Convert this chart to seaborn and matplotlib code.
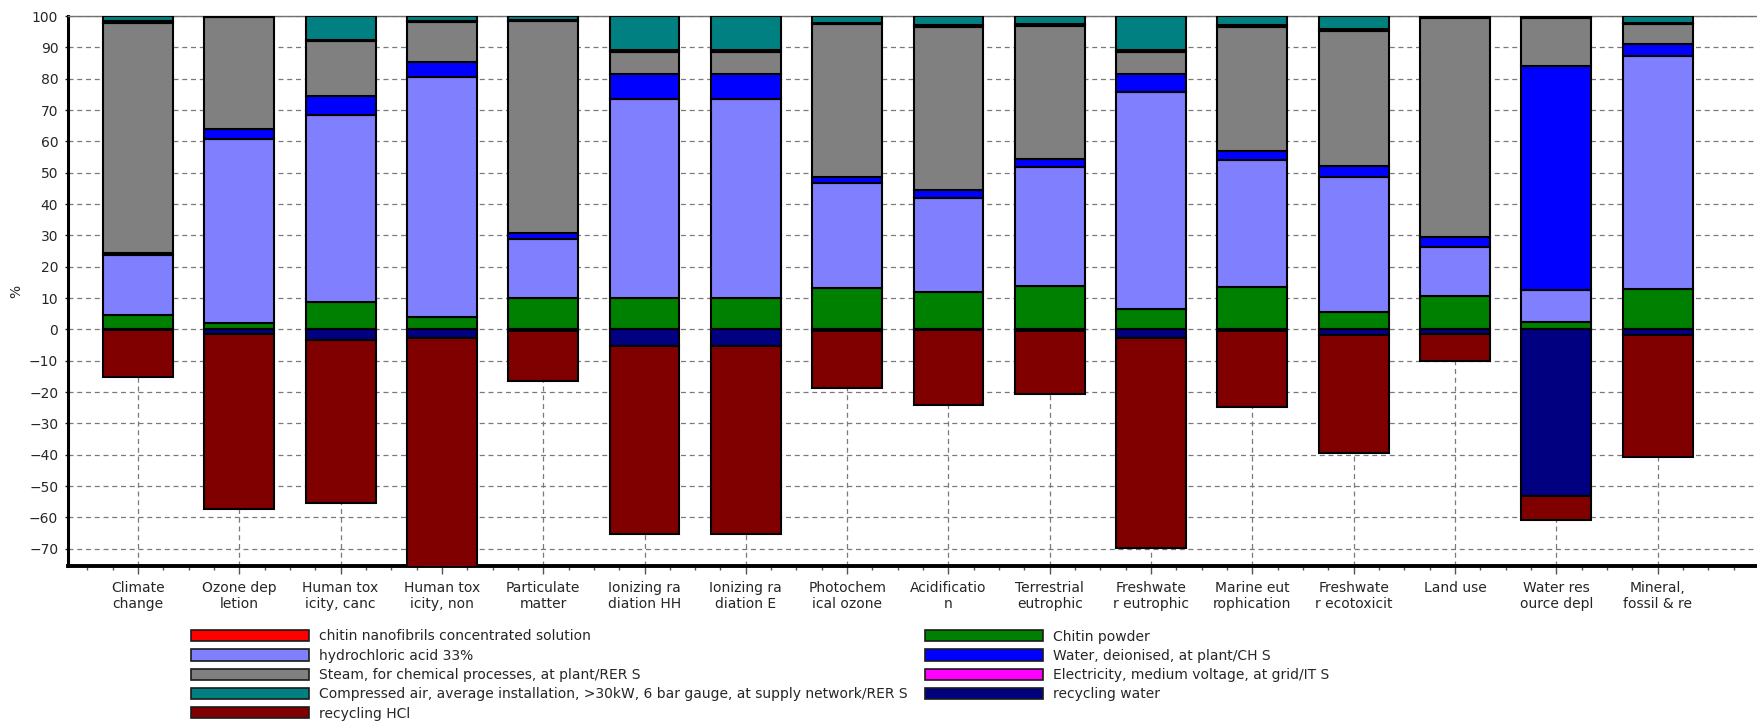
import numpy as np
import matplotlib
matplotlib.use("Agg")
import matplotlib.pyplot as plt
from matplotlib.patches import Patch
from matplotlib.ticker import MultipleLocator
import seaborn as sns

# Impact categories (SimaPro short names, wrapped as displayed)
categories = [
    "Climate\nchange", "Ozone dep\nletion", "Human tox\nicity, canc", "Human tox\nicity, non",
    "Particulate\nmatter", "Ionizing ra\ndiation HH", "Ionizing ra\ndiation E", "Photochem\nical ozone",
    "Acidificatio\nn", "Terrestrial\neutrophic", "Freshwate\nr eutrophic", "Marine eut\nrophication",
    "Freshwate\nr ecotoxicit", "Land use", "Water res\nource depl", "Mineral,\nfossil & re",
]

# Contributions in % (positive stack, bottom to top)
chitin_nanofibrils = [0.0, 0.0, 0.0, 0.0, 0.0, 0.0, 0.0, 0.0, 0.0, 0.0, 0.0, 0.0, 0.0, 0.0, 0.0, 0.0]
chitin_powder = [4.5, 2.0, 8.7, 3.8, 10.0, 10.0, 10.0, 13.3, 11.8, 14.0, 6.5, 13.5, 5.7, 10.8, 2.2, 13.0]
hydrochloric_acid = [19.2, 58.8, 59.6, 76.7, 18.9, 63.5, 63.5, 33.4, 30.1, 37.8, 69.3, 40.7, 42.9, 15.4, 10.5, 74.2]
water_deionised = [0.8, 3.0, 6.1, 4.8, 2.0, 8.1, 8.1, 2.0, 2.5, 2.5, 5.8, 2.6, 3.4, 3.3, 71.5, 4.0]
steam = [73.2, 35.8, 17.7, 12.8, 67.5, 6.9, 6.9, 48.6, 52.0, 42.4, 6.8, 39.6, 43.3, 69.9, 15.1, 6.2]
electricity = [0.6, 0.4, 0.4, 0.4, 0.4, 0.6, 0.6, 0.6, 0.6, 0.6, 0.6, 0.6, 0.5, 0.6, 0.7, 0.4]
compressed_air = [1.7, 0.0, 7.5, 1.5, 1.2, 10.9, 10.9, 2.1, 3.0, 2.7, 11.0, 3.0, 4.2, 0.0, 0.0, 2.2]

# Avoided burdens in % (negative stack, top to bottom)
recycling_water = [-0.3, -1.5, -3.3, -2.9, -0.5, -5.2, -5.2, -0.4, -0.3, -0.5, -2.9, -0.5, -1.8, -1.5, -53.2, -1.8]
recycling_hcl = [-14.8, -55.8, -52.0, -80.0, -16.0, -60.1, -60.1, -18.4, -23.8, -20.2, -66.7, -24.4, -37.8, -8.6, -7.7, -39.0]

positive = [
    ("chitin nanofibrils concentrated solution", chitin_nanofibrils, "#FF0000"),
    ("Chitin powder", chitin_powder, "#008000"),
    ("hydrochloric acid 33%", hydrochloric_acid, "#8080FF"),
    ("Water, deionised, at plant/CH S", water_deionised, "#0000FF"),
    ("Steam, for chemical processes, at plant/RER S", steam, "#808080"),
    ("Electricity, medium voltage, at grid/IT S", electricity, "#FF00FF"),
    ("Compressed air, average installation, >30kW, 6 bar gauge, at supply network/RER S", compressed_air, "#008080"),
]
negative = [
    ("recycling water", recycling_water, "#000080"),
    ("recycling HCl", recycling_hcl, "#800000"),
]

legend_left = [
    ("chitin nanofibrils concentrated solution", "#FF0000"),
    ("hydrochloric acid 33%", "#8080FF"),
    ("Steam, for chemical processes, at plant/RER S", "#808080"),
    ("Compressed air, average installation, >30kW, 6 bar gauge, at supply network/RER S", "#008080"),
    ("recycling HCl", "#800000"),
]
legend_right = [
    ("Chitin powder", "#008000"),
    ("Water, deionised, at plant/CH S", "#0000FF"),
    ("Electricity, medium voltage, at grid/IT S", "#FF00FF"),
    ("recycling water", "#000080"),
]

sns.set_theme(style="ticks")
plt.rcParams["font.family"] = ["DejaVu Sans"]
FS = 10

W, H = 1758, 721
fig = plt.figure(figsize=(W / 100, H / 100), dpi=100)
ax = fig.add_axes([68 / W, 1 - 566 / H, (1757 - 68) / W, (566 - 16) / H])

bar_kw = dict(width=0.69, edgecolor="black", linewidth=1.5, errorbar=None,
              saturation=1, ax=ax, zorder=3)

bottom = np.zeros(len(categories))
for label, vals, color in positive:
    vals = np.asarray(vals, dtype=float)
    sns.barplot(x=categories, y=vals, bottom=bottom.copy(), color=color, **bar_kw)
    bottom += vals

bottom = np.zeros(len(categories))
for label, vals, color in negative:
    vals = np.asarray(vals, dtype=float)
    sns.barplot(x=categories, y=vals, bottom=bottom.copy(), color=color, **bar_kw)
    bottom += vals

ax.set_xlim(-0.69, 15.98)
ax.set_ylim(-75.5, 100)
ax.set_yticks(np.arange(-70, 101, 10))
ax.xaxis.set_minor_locator(MultipleLocator(0.25))

ax.grid(True, which="major", axis="both", color="#7a7a7a", linestyle=(0, (4, 3)), linewidth=0.9)
ax.set_axisbelow(True)

ax.tick_params(axis="x", which="major", length=6, width=1, color="#555555",
               pad=5, labelsize=FS, direction="out")
ax.tick_params(axis="x", which="minor", length=3, width=1, color="#555555", direction="out")
ax.tick_params(axis="y", which="major", length=2, width=1, pad=5, labelsize=FS, direction="out")
for lbl in ax.get_xticklabels():
    lbl.set_linespacing(1.15)

ax.set_xlabel("")
ax.set_ylabel("%", fontsize=FS, labelpad=4)

for side in ("left", "bottom"):
    ax.spines[side].set_color("black")
ax.spines["left"].set_linewidth(2.2)
ax.spines["bottom"].set_linewidth(2.8)
ax.spines["top"].set_visible(True)
ax.spines["top"].set_color("#707070")
ax.spines["top"].set_linewidth(1.0)
ax.spines["right"].set_visible(False)

leg_kw = dict(loc="upper left", frameon=False, fontsize=FS, handlelength=8.5,
              handleheight=0.85, handletextpad=0.7, labelspacing=0.38,
              borderpad=0, borderaxespad=0)
h1 = [Patch(facecolor=c, edgecolor="#1a1a1a", linewidth=1.2, label=l) for l, c in legend_left]
h2 = [Patch(facecolor=c, edgecolor="#1a1a1a", linewidth=1.2, label=l) for l, c in legend_right]
fig.legend(handles=h1, bbox_to_anchor=(191 / W, 1 - 629.5 / H), **leg_kw)
fig.legend(handles=h2, bbox_to_anchor=(925 / W, 1 - 629.5 / H), **leg_kw)

fig.savefig("out.png", dpi=100)
